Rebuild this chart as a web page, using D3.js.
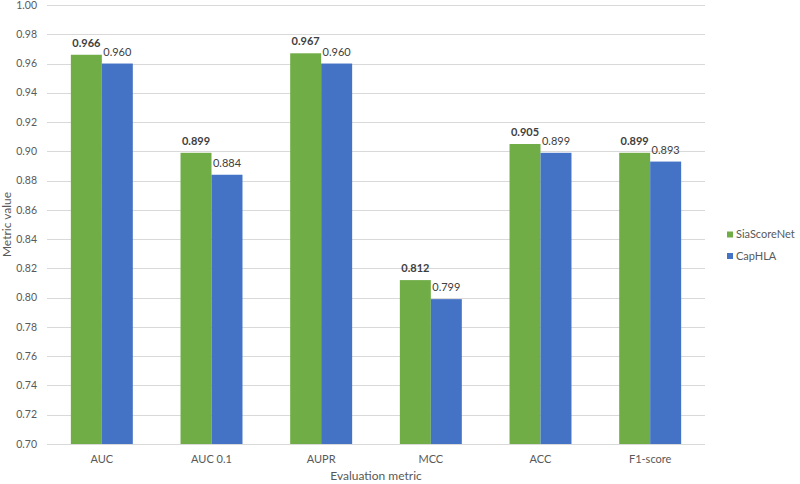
<!DOCTYPE html>
<html>
<head>
<meta charset="utf-8">
<script src="https://cdn.jsdelivr.net/npm/d3@7"></script>
<style>
  body { margin: 0; background: #fff; }
  text { font-family: Lato, "Open Sans", sans-serif; }
</style>
</head>
<body>
<svg id="chart" width="800" height="484"></svg>
<script>
// chart values
var metrics = ["AUC", "AUC 0.1", "AUPR", "MCC", "ACC", "F1-score"];
var seriesNames = ["SiaScoreNet", "CapHLA"];
var siaScoreNet = [0.966, 0.899, 0.967, 0.812, 0.905, 0.899];
var capHLA = [0.960, 0.884, 0.960, 0.799, 0.899, 0.893];
var yTicks = [0.70, 0.72, 0.74, 0.76, 0.78, 0.80, 0.82, 0.84, 0.86, 0.88, 0.90, 0.92, 0.94, 0.96, 0.98, 1.00];

var colors = { "SiaScoreNet": "#70ad47", "CapHLA": "#4472c4" };

function main() {
  var svg = d3.select("#chart");
  var left = 47, right = 705, top = 5, bottom = 444;

  var x = d3.scaleBand().domain(metrics).range([left, right]).paddingInner(0.435).paddingOuter(0.2175);
  var xs = d3.scaleBand().domain(seriesNames).range([0, x.bandwidth()]);
  var y = d3.scaleLinear().domain([0.70, 1.00]).range([bottom, top]);

  // gridlines
  svg.append("g")
    .selectAll("line")
    .data(yTicks)
    .enter().append("line")
    .attr("x1", left).attr("x2", right)
    .attr("y1", d => Math.round(y(d)) + 0.5)
    .attr("y2", d => Math.round(y(d)) + 0.5)
    .attr("stroke", "#d9d9d9")
    .attr("stroke-width", 1);

  // y tick labels
  svg.append("g")
    .selectAll("text")
    .data(yTicks)
    .enter().append("text")
    .attr("x", 37)
    .attr("y", d => y(d))
    .attr("dy", "0.35em")
    .attr("text-anchor", "end")
    .attr("font-size", "10.5px")
    .attr("fill", "#595959")
    .text(d => d3.format(".2f")(d));

  var rows = metrics.map(function(m, i) {
    return { metric: m, values: [
      { name: "SiaScoreNet", value: siaScoreNet[i] },
      { name: "CapHLA", value: capHLA[i] }
    ]};
  });

  var groups = svg.append("g")
    .selectAll("g")
    .data(rows)
    .enter().append("g")
    .attr("transform", d => "translate(" + x(d.metric) + ",0)");

  groups.selectAll("rect")
    .data(d => d.values)
    .enter().append("rect")
    .attr("x", d => xs(d.name))
    .attr("width", xs.bandwidth())
    .attr("y", d => y(d.value))
    .attr("height", d => y(0.70) - y(d.value))
    .attr("fill", d => colors[d.name]);

  groups.selectAll("text")
    .data(d => d.values)
    .enter().append("text")
    .attr("x", d => xs(d.name) + xs.bandwidth() / 2)
    .attr("y", d => y(d.value) - 8)
    .attr("text-anchor", "middle")
    .attr("font-size", "11px")
    .attr("font-weight", d => d.name === "SiaScoreNet" ? "bold" : "normal")
    .attr("fill", "#404040")
    .text(d => d3.format(".3f")(d.value));

  // x tick labels
  svg.append("g")
    .selectAll("text")
    .data(metrics)
    .enter().append("text")
    .attr("x", d => x(d) + x.bandwidth() / 2)
    .attr("y", 463)
    .attr("text-anchor", "middle")
    .attr("font-size", "11px")
    .attr("fill", "#595959")
    .text(d => d);

  // axis titles
  svg.append("text")
    .attr("x", (left + right) / 2)
    .attr("y", 480)
    .attr("text-anchor", "middle")
    .attr("font-size", "12px")
    .attr("fill", "#595959")
    .text("Evaluation metric");

  svg.append("text")
    .attr("transform", "translate(11," + ((top + bottom) / 2) + ") rotate(-90)")
    .attr("text-anchor", "middle")
    .attr("font-size", "12px")
    .attr("fill", "#595959")
    .text("Metric value");

  // legend
  var legend = svg.append("g")
    .selectAll("g")
    .data(seriesNames)
    .enter().append("g")
    .attr("transform", (d, i) => "translate(727," + (234.5 + i * 21.5) + ")");
  legend.append("rect")
    .attr("x", 0).attr("y", -3)
    .attr("width", 6).attr("height", 6)
    .attr("fill", d => colors[d]);
  legend.append("text")
    .attr("x", 9)
    .attr("dy", "0.35em")
    .attr("font-size", "11px")
    .attr("fill", "#595959")
    .text(d => d);
}

main();
</script>
</body>
</html>
